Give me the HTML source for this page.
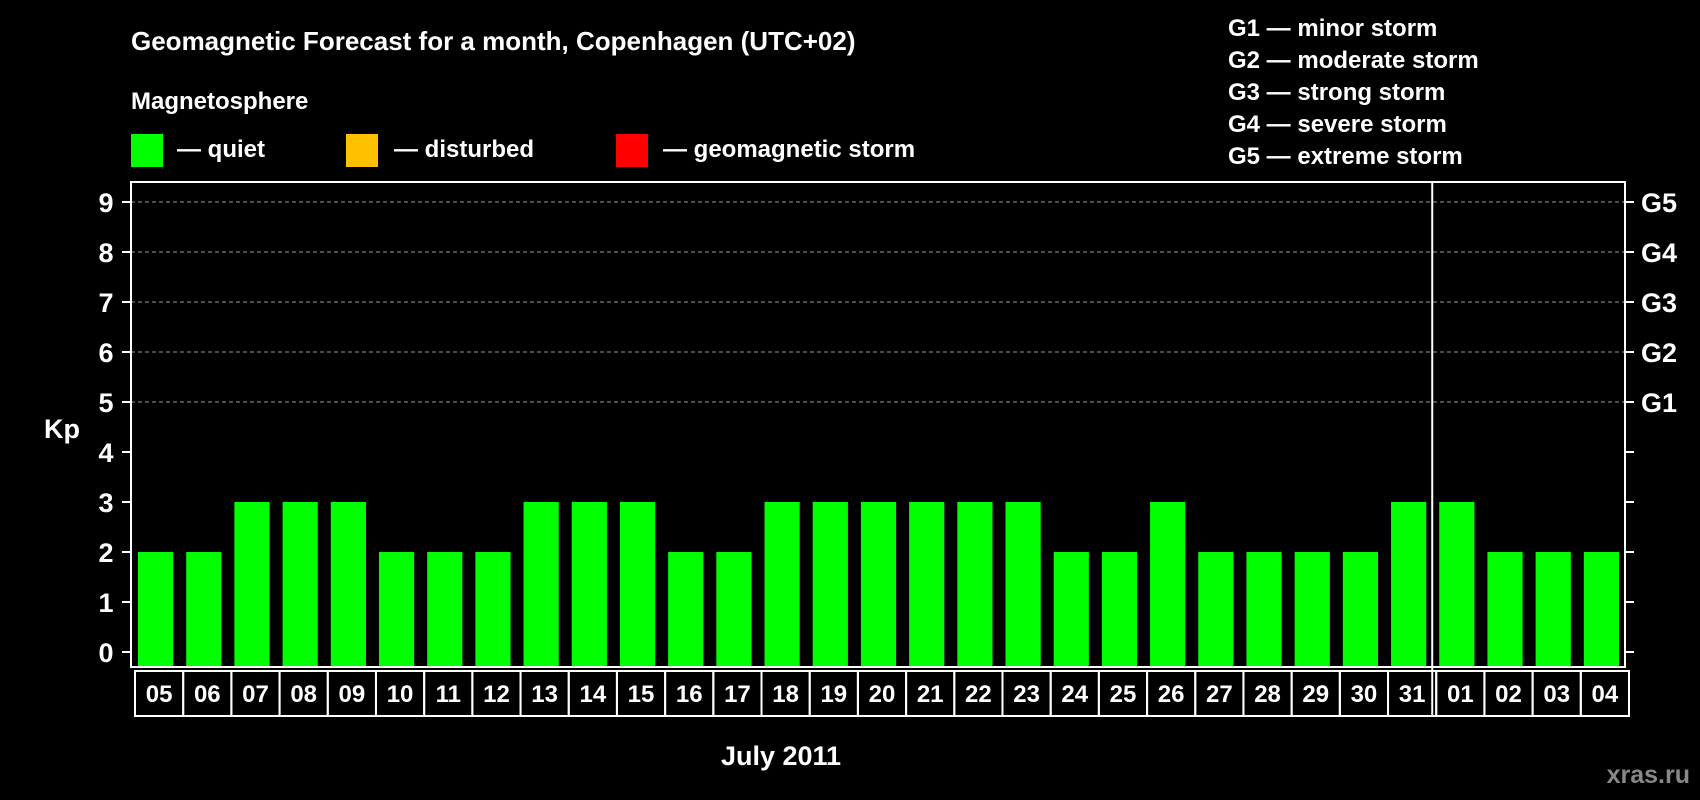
<!DOCTYPE html>
<html><head><meta charset="utf-8"><style>
html,body{margin:0;padding:0;background:#000;}
svg{display:block;font-family:"Liberation Sans",sans-serif;font-weight:bold;}
</style></head><body>
<svg width="1700" height="800" viewBox="0 0 1700 800" xmlns="http://www.w3.org/2000/svg">
<rect x="0" y="0" width="1700" height="800" fill="#000"/>
<text x="131" y="50" fill="#fff" font-size="26">Geomagnetic Forecast for a month, Copenhagen (UTC+02)</text>
<text x="131" y="109" fill="#fff" font-size="24">Magnetosphere</text>
<g><rect x="131" y="134" width="32" height="33" fill="#00ff00"/><text x="177" y="157" fill="#fff" font-size="24">— quiet</text></g>
<g><rect x="346" y="134" width="32" height="33" fill="#ffc000"/><text x="394" y="157" fill="#fff" font-size="24">— disturbed</text></g>
<g><rect x="616" y="134" width="32" height="33" fill="#ff0000"/><text x="663" y="157" fill="#fff" font-size="24">— geomagnetic storm</text></g>
<g fill="#fff" font-size="24">
<text x="1228" y="36">G1 — minor storm</text>
<text x="1228" y="68">G2 — moderate storm</text>
<text x="1228" y="100">G3 — strong storm</text>
<text x="1228" y="132">G4 — severe storm</text>
<text x="1228" y="164">G5 — extreme storm</text>
</g>
<text x="62" y="438" fill="#fff" font-size="27" text-anchor="middle">Kp</text>
<text x="781" y="765" fill="#fff" font-size="27" text-anchor="middle">July 2011</text>
<text x="1690" y="783" fill="#888" font-size="25" text-anchor="end">xras.ru</text>
<g id="plot"></g>
</svg>
<script>
const days = ["05","06","07","08","09","10","11","12","13","14","15","16","17","18","19","20","21","22","23","24","25","26","27","28","29","30","31","01","02","03","04"];
const kp = [2,2,3,3,3,2,2,2,3,3,3,2,2,3,3,3,3,3,3,2,2,3,2,2,2,2,3,3,2,2,2];
const yTicks = [0,1,2,3,4,5,6,7,8,9];
const gLabels = ["G1","G2","G3","G4","G5"];
const gLevels = [5,6,7,8,9];
const monthBreakIndex = 27;

const NS = "http://www.w3.org/2000/svg";
const L = 131, R = 1625, T = 182, B = 667;
const slot = (R - L) / days.length;
const y = v => 652 - v * 50;
const x = i => L + i * slot;
const g = document.getElementById('plot');
function mk(tag, attrs) { const e = document.createElementNS(NS, tag); for (const k in attrs) e.setAttribute(k, attrs[k]); g.appendChild(e); return e; }

yTicks.forEach(v => {
  if (v >= 5) {
    const gl = mk('line', {x1: L, x2: R, y1: y(v), y2: y(v), stroke: '#999', 'stroke-dasharray': '4,3', 'stroke-width': 1});
    
    
  }
  const tl = mk('line', {x1: L - 9, x2: L, y1: y(v), y2: y(v), stroke: '#fff', 'stroke-width': 2});
  
  
  const tr = mk('line', {x1: R, x2: R + 9, y1: y(v), y2: y(v), stroke: '#fff', 'stroke-width': 2});
  
  
  const t = mk('text', {x: 106, y: y(v) + 10, fill: '#fff', 'font-size': 27, 'text-anchor': 'middle'});
  t.textContent = v;
  
  
});
gLabels.forEach((lab, j) => {
  const t = mk('text', {x: 1641, y: y(gLevels[j]) + 10, fill: '#fff', 'font-size': 27});
  t.textContent = lab;
  
  
});
kp.forEach((v, i) => {
  const col = v >= 5 ? '#ff0000' : (v >= 4 ? '#ffc000' : '#00ff00');
  const b = mk('rect', {x: x(i) + 7, y: y(v), width: slot - 13, height: B - y(v), fill: col});
  
  
});
const sep = mk('line', {x1: x(monthBreakIndex), x2: x(monthBreakIndex), y1: T, y2: 716, stroke: '#fff', 'stroke-width': 2});


const frame = mk('rect', {x: L, y: T, width: R - L, height: B - T, fill: 'none', stroke: '#fff', 'stroke-width': 2});


days.forEach((d, i) => {
  const c = mk('rect', {x: x(i) + 4, y: 671, width: slot, height: 45, fill: 'none', stroke: '#fff', 'stroke-width': 2});
  
  
  const t = mk('text', {x: x(i) + 4 + slot / 2, y: 702, fill: '#fff', 'font-size': 24, 'text-anchor': 'middle'});
  t.textContent = d;
  
  
});
</script>
</body></html>
